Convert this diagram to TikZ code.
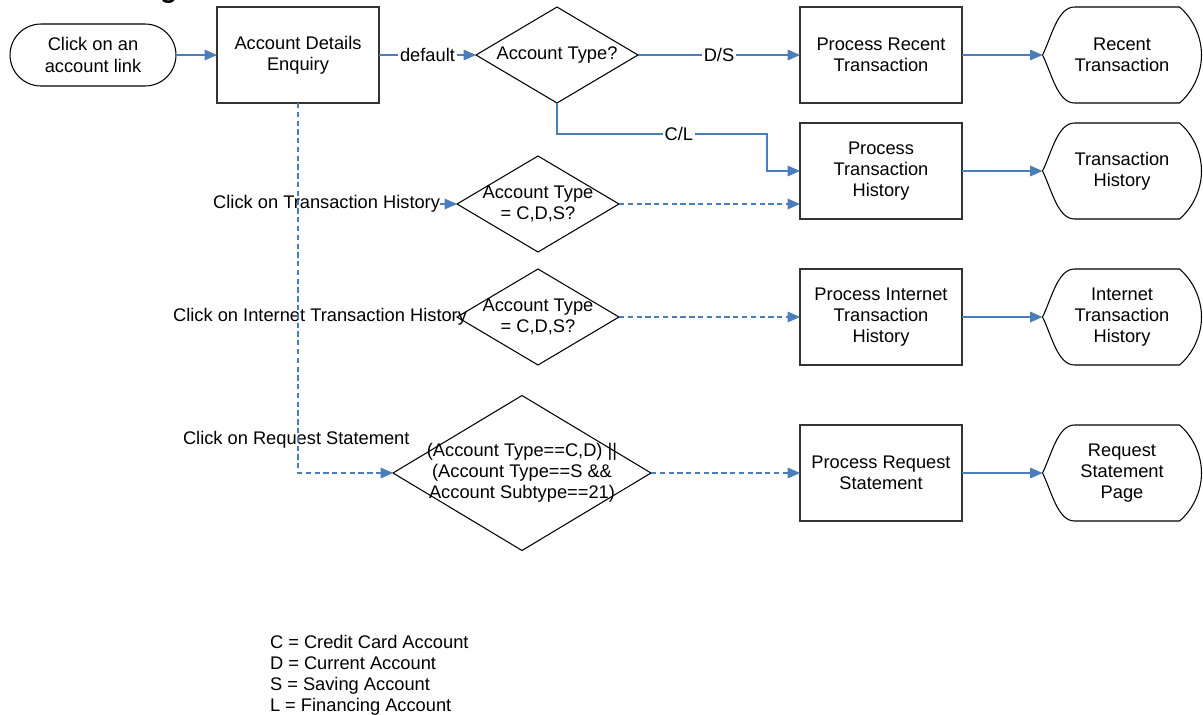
\documentclass[tikz,border=0pt]{standalone}
\usepackage{fontspec}
\setmainfont{Liberation Sans}
\usetikzlibrary{shapes.geometric,arrows.meta,calc}
\definecolor{flowblue}{RGB}{74,126,187}

\begin{document}
\begin{tikzpicture}[x=0.02cm,y=-0.02cm,
    font=\fontsize{10.4}{12}\selectfont,
    every node/.style={outer sep=0pt},
    term/.style={draw,line width=0.6pt,rounded corners=0.62cm,minimum width=3.32cm,minimum height=1.24cm,align=center},
    proc/.style={draw=black!80,line width=0.9pt,minimum width=3.24cm,minimum height=1.92cm,align=center},
    decision/.style={diamond,draw,line width=0.6pt,inner sep=0pt,minimum width=3.24cm,minimum height=1.92cm},
    disp/.style={minimum width=3.18cm,minimum height=1.92cm,align=center},
    txt/.style={align=center,inner sep=0pt},
    flow/.style={draw=flowblue,line width=0.6pt,-{Triangle[length=7pt,width=6pt]}},
    alt/.style={flow,dash pattern=on 3pt off 2pt},
    lbl/.style={fill=white,inner sep=1pt}]
    \useasboundingbox (0,0) rectangle (1203,714);
    \node at (160,-3) [anchor=base west,inner sep=0pt,font=\bfseries\fontsize{16}{19}\selectfont] (titlefrag) {g};

    \node at (93,55) [term] (start) {Click on an\\account link};
    \node at (298,55) [proc] (enquiry) {Account Details\\Enquiry};
    \node at (557,55) [decision] (acctype) {};
    \node at (acctype) [txt] (acctypetxt) {Account Type?};
    \node at (881,55) [proc] (procrecent) {Process Recent\\Transaction};
    \node at (1122,55) [disp] (outrecent) {Recent\\Transaction};

    \node at (881,171) [proc] (prochist) {Process\\Transaction\\History};
    \node at (1122,171) [disp] (outhist) {Transaction\\History};
    \node at (538,204) [decision] (chkhist) {};
    \node at (chkhist) [txt] (chkhisttxt) {Account Type\\= C,D,S?};
    \node at (440,204) [anchor=east,inner sep=0pt] (lblhist) {Click on Transaction History};

    \node at (538,317) [decision] (chkinet) {};
    \node at (chkinet) [txt] (chkinettxt) {Account Type\\= C,D,S?};
    \node at (467,317) [anchor=east,inner sep=0pt] (lblinet) {Click on Internet Transaction History};
    \node at (881,317) [proc] (procinet) {Process Internet\\Transaction\\History};
    \node at (1122,317) [disp] (outinet) {Internet\\Transaction\\History};

    \node at (522,473) [decision,minimum width=5.16cm,minimum height=3.1cm] (chkstmt) {};
    \node at (chkstmt) [txt] (chkstmttxt) {(Account Type==C,D) ||\\(Account Type==S \&\&\\Account Subtype==21)};
    \node at (183,440) [anchor=west,inner sep=0pt] (lblstmt) {Click on Request Statement};
    \node at (881,473) [proc] (procstmt) {Process Request\\Statement};
    \node at (1122,473) [disp] (outstmt) {Request\\Statement\\Page};

    \foreach \n in {outrecent,outhist,outinet,outstmt}
        \draw[line width=0.6pt] (\n.west) .. controls +(9,-18) and +(-17,0) .. ($(\n.north west)+(32,0)$)
            -- ($(\n.north east)+(-22,0)$) .. controls +(12,10) and +(0,-20) .. (\n.east)
            .. controls +(0,20) and +(12,-10) .. ($(\n.south east)+(-22,0)$)
            -- ($(\n.south west)+(32,0)$) .. controls +(-17,0) and +(9,18) .. (\n.west);

    \coordinate (clbend) at (767,134);
    \draw[flow] (start) -- (enquiry);
    \draw[flow] (enquiry) -- node[lbl] {default} (acctype.west);
    \draw[flow] (acctype.east) -- node[lbl] {D/S} (procrecent);
    \draw[flow] (procrecent) -- (outrecent.west);
    \draw[flow] (acctype.south) |- node[lbl,pos=0.79] {C/L} (clbend) |- (prochist.west);
    \draw[flow] (prochist) -- (outhist.west);
    \draw[flow] (lblhist) -- (chkhist.west);
    \draw[alt] (chkhist.east) -- (chkhist.east -| prochist.west);
    \draw[alt] (chkinet.east) -- (procinet.west);
    \draw[flow] (procinet) -- (outinet.west);
    \draw[alt] (enquiry.south) |- (chkstmt.west);
    \draw[alt] (chkstmt.east) -- (procstmt.west);
    \draw[flow] (procstmt) -- (outstmt.west);

    \foreach \t [count=\i] in {C = Credit Card Account,D = Current Account,S = Saving Account,L = Financing Account}
        \node at (270,{648+21*(\i-1)}) [anchor=base west,inner sep=0pt] (key\i) {\t};
\end{tikzpicture}
\end{document}
